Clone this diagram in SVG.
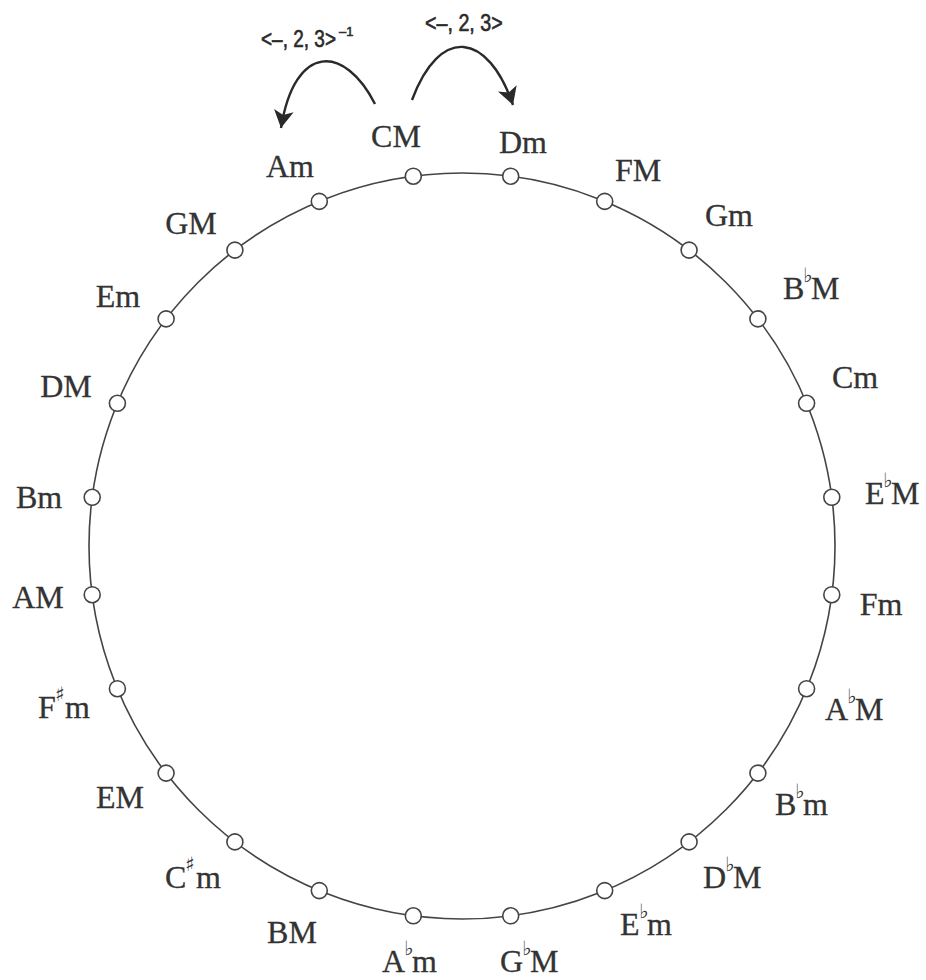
<svg xmlns="http://www.w3.org/2000/svg" width="926" height="980" viewBox="0 0 926 980">
<style>
.lbl{font-family:"Liberation Serif","Times New Roman",serif;font-size:32px;fill:#333;stroke:#333;stroke-width:0.3}
.acc{font-family:"DejaVu Serif","DejaVu Sans",serif;font-size:20px;fill:#333}
.node{fill:#fff;stroke:#444;stroke-width:1.6}
.ring{fill:none;stroke:#444;stroke-width:1.6}
.arc{fill:none;stroke:#2a2a2a;stroke-width:2.4}
.op{font-family:"Liberation Sans","Arial",sans-serif;fill:#2a2a2a;stroke:#2a2a2a;stroke-width:0.5}
</style>
<defs>
<marker id="ah" markerUnits="userSpaceOnUse" markerWidth="22" markerHeight="22" viewBox="0 -10 18 20" refX="16" refY="0" orient="auto">
<path d="M0,-9 L16,0 L0,9 L4,0 z" fill="#2a2a2a"/>
</marker>
</defs>
<rect width="926" height="980" fill="#fff"/>
<circle class="ring" cx="462" cy="546" r="373"/>
<g id="connectors">
<path class="arc" d="M375,104 C345,45 295,42 281,128" marker-end="url(#ah)"/>
<path class="arc" d="M412,100 C440,25 488,32 513,105" marker-end="url(#ah)"/>
<text class="op" transform="translate(425,31) scale(1,1.25)" x="0" y="0" style="font-size:19.7px">&lt;–, 2, 3&gt;</text>
<text class="op" transform="translate(261,47) scale(1,1.25)" x="0" y="0" style="font-size:19px">&lt;–, 2, 3&gt;</text>
<text class="op" x="339" y="36" style="font-size:13px">–1</text>
</g>
<g id="n-CM"><circle class="node" cx="413.3" cy="176.2" r="8"/><text class="lbl" x="396" y="147" text-anchor="middle">CM</text></g>
<g id="n-Dm"><circle class="node" cx="510.7" cy="176.2" r="8"/><text class="lbl" x="523" y="153" text-anchor="middle">Dm</text></g>
<g id="n-FM"><circle class="node" cx="604.7" cy="201.4" r="8"/><text class="lbl" x="638" y="181" text-anchor="middle">FM</text></g>
<g id="n-Gm"><circle class="node" cx="689.1" cy="250.1" r="8"/><text class="lbl" x="729" y="226" text-anchor="middle">Gm</text></g>
<g id="n-BbM"><circle class="node" cx="757.9" cy="318.9" r="8"/><text class="lbl" x="783" y="299">B</text><text class="acc" x="803" y="282">♭&#xFE0E;</text><text class="lbl" x="811" y="299">M</text></g>
<g id="n-Cm"><circle class="node" cx="806.6" cy="403.3" r="8"/><text class="lbl" x="855" y="388" text-anchor="middle">Cm</text></g>
<g id="n-EbM"><circle class="node" cx="831.8" cy="497.3" r="8"/><text class="lbl" x="865" y="504">E</text><text class="acc" x="883" y="487">♭&#xFE0E;</text><text class="lbl" x="891" y="504">M</text></g>
<g id="n-Fm"><circle class="node" cx="831.8" cy="594.7" r="8"/><text class="lbl" x="881" y="615" text-anchor="middle">Fm</text></g>
<g id="n-AbM"><circle class="node" cx="806.6" cy="688.7" r="8"/><text class="lbl" x="825" y="720">A</text><text class="acc" x="847" y="703">♭&#xFE0E;</text><text class="lbl" x="855" y="720">M</text></g>
<g id="n-Bbm"><circle class="node" cx="757.9" cy="773.1" r="8"/><text class="lbl" x="775" y="815">B</text><text class="acc" x="795" y="798">♭&#xFE0E;</text><text class="lbl" x="803" y="815">m</text></g>
<g id="n-DbM"><circle class="node" cx="689.1" cy="841.9" r="8"/><text class="lbl" x="703" y="888">D</text><text class="acc" x="725" y="871">♭&#xFE0E;</text><text class="lbl" x="733" y="888">M</text></g>
<g id="n-Ebm"><circle class="node" cx="604.7" cy="890.6" r="8"/><text class="lbl" x="620" y="935">E</text><text class="acc" x="639" y="918">♭&#xFE0E;</text><text class="lbl" x="647" y="935">m</text></g>
<g id="n-GbM"><circle class="node" cx="510.7" cy="915.8" r="8"/><text class="lbl" x="500" y="972">G</text><text class="acc" x="522" y="955">♭&#xFE0E;</text><text class="lbl" x="530" y="972">M</text></g>
<g id="n-Abm"><circle class="node" cx="413.3" cy="915.8" r="8"/><text class="lbl" x="382" y="972">A</text><text class="acc" x="404" y="955">♭&#xFE0E;</text><text class="lbl" x="412" y="972">m</text></g>
<g id="n-BM"><circle class="node" cx="319.3" cy="890.6" r="8"/><text class="lbl" x="292" y="943" text-anchor="middle">BM</text></g>
<g id="n-Csm"><circle class="node" cx="234.9" cy="841.9" r="8"/><text class="lbl" x="165" y="888">C</text><text class="acc" x="185" y="871">♯&#xFE0E;</text><text class="lbl" x="196" y="888">m</text></g>
<g id="n-EM"><circle class="node" cx="166.1" cy="773.1" r="8"/><text class="lbl" x="120" y="808" text-anchor="middle">EM</text></g>
<g id="n-Fsm"><circle class="node" cx="117.4" cy="688.7" r="8"/><text class="lbl" x="38" y="718">F</text><text class="acc" x="55" y="701">♯&#xFE0E;</text><text class="lbl" x="65" y="718">m</text></g>
<g id="n-AM"><circle class="node" cx="92.2" cy="594.7" r="8"/><text class="lbl" x="38" y="608" text-anchor="middle">AM</text></g>
<g id="n-Bm"><circle class="node" cx="92.2" cy="497.3" r="8"/><text class="lbl" x="39" y="508" text-anchor="middle">Bm</text></g>
<g id="n-DM"><circle class="node" cx="117.4" cy="403.3" r="8"/><text class="lbl" x="66" y="397" text-anchor="middle">DM</text></g>
<g id="n-Em"><circle class="node" cx="166.1" cy="318.9" r="8"/><text class="lbl" x="118" y="307" text-anchor="middle">Em</text></g>
<g id="n-GM"><circle class="node" cx="234.9" cy="250.1" r="8"/><text class="lbl" x="191" y="234" text-anchor="middle">GM</text></g>
<g id="n-Am"><circle class="node" cx="319.3" cy="201.4" r="8"/><text class="lbl" x="290" y="177" text-anchor="middle">Am</text></g>
</svg>
